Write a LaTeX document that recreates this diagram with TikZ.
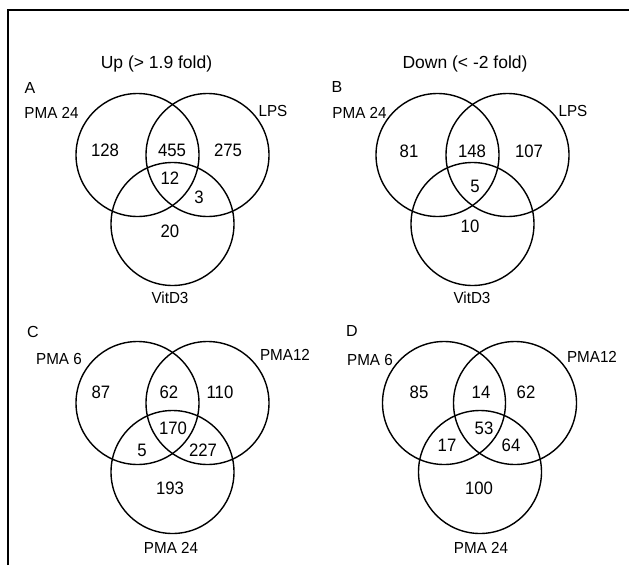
\documentclass[tikz,border=0pt]{standalone}
\usepackage{fontspec}
\setmainfont{Liberation Sans}
\newfontfamily\narrowsans[FakeStretch=0.93]{Liberation Sans}
\newfontfamily\labelsans[FakeStretch=0.95]{Liberation Sans}
\begin{document}
\begin{tikzpicture}[x=1pt,y=-1pt,
  set/.style={draw,circle,line width=1.4pt,minimum size=123pt,inner sep=0pt},
  num/.style={font=\narrowsans\fontsize{18}{18}\selectfont,inner sep=0pt},
  lab/.style={font=\labelsans\fontsize{16}{16}\selectfont,inner sep=0pt},
  ttl/.style={font=\fontsize{17.5}{17.5}\selectfont,inner sep=0pt},
  tag/.style={font=\fontsize{16}{16}\selectfont,inner sep=0pt}]
\useasboundingbox (0,0) rectangle (629,565);
% outer frame (top and left edges)
\draw[line width=2pt] (8,565) -- (8,10) -- (629,10);

% ---- A: up-regulated ----
\node[ttl] (tA) at (156.5,64) {Up (> 1.9 fold)};
\node[tag] (A) at (30,88) {A};
\node[set] (A1) at (137.5,155) {};
\node[set] (A2) at (207.5,155) {};
\node[set] (A3) at (172.5,224) {};
\node[lab] (A1l) at (51.5,113) {PMA 24};
\node[lab] (A2l) at (273,111) {LPS};
\node[lab] (A3l) at (170,298) {VitD3};
\node[num] (a1) at (105,150) {128};
\node[num] (a12) at (172,150) {455};
\node[num] (a2) at (228,150) {275};
\node[num] (a123) at (170,178) {12};
\node[num] (a23) at (199,197) {3};
\node[num] (a3) at (170,231) {20};

% ---- B: down-regulated ----
\node[ttl] (tB) at (465,64) {Down (< -2 fold)};
\node[tag] (B) at (337,87) {B};
\node[set] (B1) at (437.5,155) {};
\node[set] (B2) at (507.5,155) {};
\node[set] (B3) at (472.5,224) {};
\node[lab] (B1l) at (359.5,113) {PMA 24};
\node[lab] (B2l) at (573,111) {LPS};
\node[lab] (B3l) at (472,298) {VitD3};
\node[num] (b1) at (409,151) {81};
\node[num] (b12) at (472,151) {148};
\node[num] (b2) at (529,151) {107};
\node[num] (b123) at (475,186) {5};
\node[num] (b3) at (470,226) {10};

% ---- C ----
\node[tag] (C) at (33,332) {C};
\node[set] (C1) at (137.5,403) {};
\node[set] (C2) at (207.5,403) {};
\node[set] (C3) at (172.5,472) {};
\node[lab] (C1l) at (59,359) {PMA 6};
\node[lab] (C2l) at (285,355) {PMA12};
\node[lab] (C3l) at (171,548) {PMA 24};
\node[num] (c1) at (101,392) {87};
\node[num] (c12) at (169,392) {62};
\node[num] (c2) at (220,392) {110};
\node[num] (c123) at (173,428) {170};
\node[num] (c13) at (142,450) {5};
\node[num] (c23) at (203,450) {227};
\node[num] (c3) at (170,488) {193};

% ---- D ----
\node[tag] (D) at (352,331) {D};
\node[set] (D1) at (444,403) {};
\node[set] (D2) at (515,403) {};
\node[set] (D3) at (480,472) {};
\node[lab] (D1l) at (370,360) {PMA 6};
\node[lab] (D2l) at (592,357) {PMA12};
\node[lab] (D3l) at (481,548) {PMA 24};
\node[num] (d1) at (419,392) {85};
\node[num] (d12) at (481,392) {14};
\node[num] (d2) at (526,392) {62};
\node[num] (d123) at (484,428) {53};
\node[num] (d13) at (447,445) {17};
\node[num] (d23) at (511,445) {64};
\node[num] (d3) at (479,488) {100};
\end{tikzpicture}
\end{document}
